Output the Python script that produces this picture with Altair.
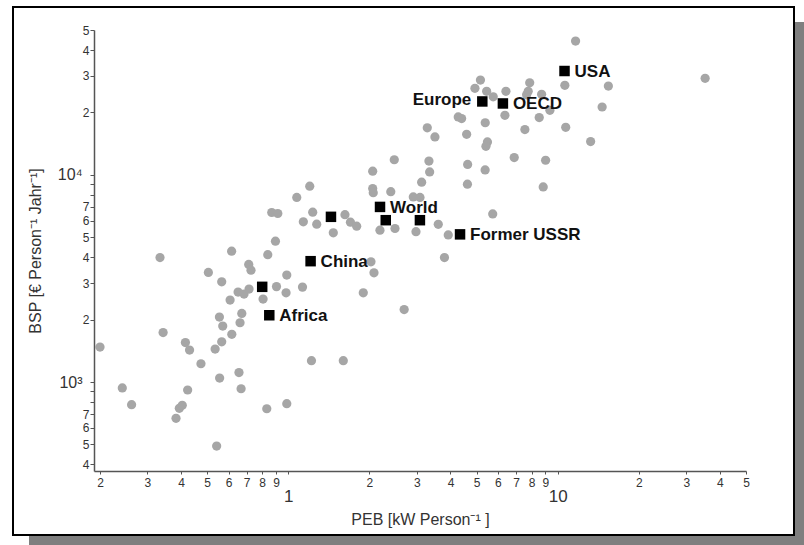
import altair as alt
import pandas as pd

# ---- data ----
peb = [0.20, 0.242, 0.262, 0.334, 0.343, 0.383, 0.394, 0.404, 0.415, 0.430, 0.423, 0.474,
       0.505, 0.535, 0.542, 0.556, 0.566, 0.555, 0.571, 0.566, 0.616, 0.617, 0.656, 0.668,
       0.662, 0.672, 0.608, 0.651, 0.685, 0.715, 0.713, 0.727, 0.806, 0.839, 0.896, 0.904,
       0.987, 0.981, 1.129, 0.832, 0.987, 1.219, 1.600, 0.868, 0.914, 1.075, 1.201, 1.232,
       1.137, 1.275, 1.469, 1.623, 1.701, 1.794, 2.189, 2.489, 1.898, 2.080, 2.027, 2.692,
       2.057, 2.474, 2.057, 2.067, 2.401, 2.910, 3.082, 3.126, 2.978, 3.603, 3.924, 3.799,
       3.327, 3.347, 3.280, 3.502, 4.592, 4.631, 4.623, 5.378, 5.383, 5.485, 5.415, 5.738,
       6.896, 9.018, 8.835, 7.555, 10.71, 13.25, 4.273, 4.399, 6.369, 8.539, 9.356, 4.929,
       5.167, 5.448, 5.763, 6.424, 7.872, 7.771, 7.666, 8.716, 10.63, 11.65, 15.42, 14.62,
       35.26]
bsp = [1475, 936, 777, 3985, 1733, 668, 747, 772, 1550, 1427, 915, 1225,
       3381, 1443, 491, 1045, 1564, 2058, 1862, 3045, 4281, 1700, 1111, 928,
       1932, 2144, 2486, 2716, 2657, 2808, 3694, 3467, 2513, 4119, 4784, 2887,
       3281, 2696, 2871, 743, 786, 1267, 1267, 6579, 6507, 7774, 8811, 6601,
       5930, 5780, 5247, 6420, 5909, 5651, 5405, 5508, 2696, 3365, 3802, 2237,
       10409, 11824, 8589, 8199, 8290, 7825, 7774, 9211, 5316, 5768, 5125, 3985,
       11654, 10328, 16870, 15230, 15694, 11222, 9008, 10559, 17836, 14405, 13735, 6478,
       12117, 11758, 8744, 16538, 16963, 14471, 19023, 18688, 19384, 18896, 20490, 26160,
       28680, 25300, 23800, 25300, 27800, 25300, 24340, 24470, 27040, 44220, 26830, 21250,
       29230]

region_names = ["USA", "Europe", "OECD", "World", "", "", "Former USSR", "", "China", "", "Africa"]
region_peb = [10.6, 5.25, 6.26, 2.19, 2.30, 3.08, 4.34, 1.44, 1.21, 0.80, 0.85]
region_bsp = [31700, 22600, 22100, 7000, 6040, 6040, 5160, 6270, 3830, 2880, 2100]

x_ticks = [0.2, 0.3, 0.4, 0.5, 0.6, 0.7, 0.8, 0.9, 1, 2, 3, 4, 5, 6, 7, 8, 9, 10, 20, 30, 40, 50]
y_ticks = [400, 500, 600, 700, 800, 900, 1000, 2000, 3000, 4000, 5000, 6000, 7000, 8000, 9000,
           10000, 20000, 30000, 40000, 50000]

countries = pd.DataFrame({"peb": peb, "bsp": bsp})
regions = pd.DataFrame({"name": region_names, "peb": region_peb, "bsp": region_bsp})
one = pd.DataFrame({"k": [0]})

FONT = "Liberation Sans"
LEAD = "round(datum.value / pow(10, floor(log(datum.value) / LN10 + 1e-6)))"

x_scale = alt.Scale(type="log", domain=[0.19, 50], nice=False)
y_scale = alt.Scale(type="log", domain=[372, 50000], nice=False)

big_x = "datum.value == 1 || datum.value == 10"
x_axis = alt.Axis(
    values=x_ticks,
    labelExpr=f"({big_x}) ? format(datum.value, 'd') : format({LEAD}, 'd')",
    labelFontSize={"condition": {"test": big_x, "value": 17}, "value": 12},
    labelPadding={"condition": {"test": big_x, "value": 14}, "value": 3},
    tickSize=3, zindex=2, grid=False,
    labelFlush=False, labelOverlap=False, labelBound=False,
    title="PEB [kW Person⁻¹ ]", titlePadding=7,
)

big_y = "datum.value == 1000 || datum.value == 10000"
y_axis = alt.Axis(
    values=y_ticks,
    labelExpr=("datum.value == 1000 ? '10³' : datum.value == 10000 ? '10⁴' : "
               f"({LEAD} >= 8 ? '' : format({LEAD}, 'd'))"),
    labelFontSize={"condition": {"test": big_y, "value": 16}, "value": 12},
    labelPadding={"condition": {"test": big_y, "value": 8}, "value": 1},
    tickSize=4, zindex=2, grid=False,
    labelFlush=False, labelOverlap=False, labelBound=False,
    title="BSP [€ Person⁻¹ Jahr⁻¹]", titlePadding=14,
)

# decorative frame with drop shadow (drawn around the whole figure)
shadow = alt.Chart(one).mark_rect(fill="#7f7f7f").encode(
    x=alt.value(-65), x2=alt.value(710), y=alt.value(-8), y2=alt.value(515))
frame = alt.Chart(one).mark_rect(fill="white", stroke="black", strokeWidth=2).encode(
    x=alt.value(-81), x2=alt.value(700), y=alt.value(-23), y2=alt.value(505))

pts = alt.Chart(countries).mark_circle(size=85, color="#a6a6a6", opacity=1).encode(
    x=alt.X("peb:Q", scale=x_scale, axis=x_axis),
    y=alt.Y("bsp:Q", scale=y_scale, axis=y_axis),
)

squares = alt.Chart(regions).mark_square(size=110, color="black", opacity=1).encode(
    x=alt.X("peb:Q", scale=x_scale),
    y=alt.Y("bsp:Q", scale=y_scale),
)

lab_right = alt.Chart(regions).transform_filter(
    "datum.name != '' && datum.name != 'Europe'"
).mark_text(align="left", baseline="middle", dx=10, dy=1, font=FONT, fontSize=17,
            fontWeight="bold", color="#111").encode(
    x=alt.X("peb:Q", scale=x_scale),
    y=alt.Y("bsp:Q", scale=y_scale),
    text="name:N",
)
lab_left = alt.Chart(regions).transform_filter(
    "datum.name == 'Europe'"
).mark_text(align="right", baseline="middle", dx=-11, dy=-1, font=FONT, fontSize=17,
            fontWeight="bold", color="#111").encode(
    x=alt.X("peb:Q", scale=x_scale),
    y=alt.Y("bsp:Q", scale=y_scale),
    text="name:N",
)

chart = alt.layer(shadow, frame, pts, squares, lab_right, lab_left).properties(
    width=652, height=441,
    autosize=alt.AutoSizeParams(type="none"),
    padding={"left": 94, "top": 30, "right": 58, "bottom": 74},
    background="white",
).configure_view(stroke=None).configure_axis(
    domainColor="#555", domainWidth=1.5, tickColor="#555", tickWidth=1,
    labelColor="#333", labelFont=FONT,
    titleColor="#333", titleFont=FONT, titleFontSize=16, titleFontWeight="normal",
)

chart.save("out.html", embed_options={"renderer": "svg", "actions": False})
